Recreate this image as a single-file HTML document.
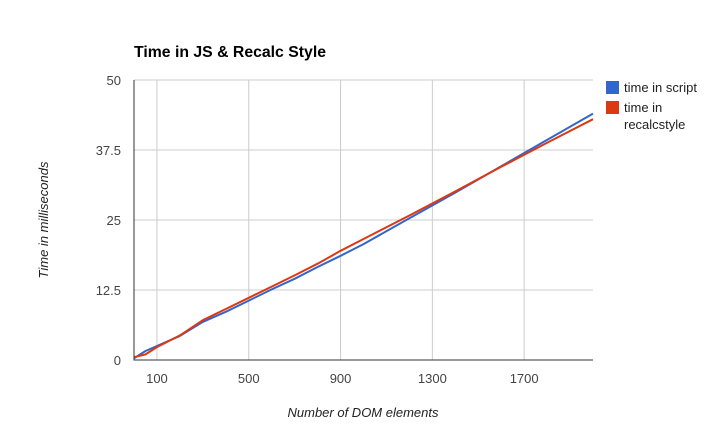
<!DOCTYPE html>
<html><head><meta charset="utf-8"><style>
html,body{margin:0;padding:0;background:#fff;width:725px;height:439px;overflow:hidden}
svg{font-family:"Liberation Sans",Arial,sans-serif;display:block}
</style></head><body>
<svg width="725" height="439">
<g id="grid"></g>
<g id="lines"></g>
<g id="axes"></g>
<text x="134" y="57" font-size="15.8" font-weight="bold" fill="#000">Time in JS &amp; Recalc Style</text>
<text x="363" y="417" font-size="13" font-style="italic" text-anchor="middle" fill="#222">Number of DOM elements</text>
<text x="48" y="220" font-size="13" font-style="italic" text-anchor="middle" fill="#222" transform="rotate(-90 48 220)">Time in milliseconds</text>
<g>
<rect x="606" y="81" width="13" height="13" fill="#3366cc"/>
<text x="624" y="92" font-size="13" fill="#222">time in script</text>
<rect x="606" y="101" width="13" height="13" fill="#dc3912"/>
<text x="624" y="112" font-size="13" fill="#222">time in</text>
<text x="624" y="129" font-size="13" fill="#222">recalcstyle</text>
</g>
</svg>
<script>
const xValues=[0,50,100,200,300,400,500,600,700,800,900,1000,1200,1400,1600,1800,2000];
const scriptTimes=[0.3,1.6,2.5,4.3,6.8,8.6,10.6,12.6,14.5,16.6,18.6,20.7,25.3,29.9,34.6,39.3,44.0];
const recalcTimes=[0.5,1.0,2.3,4.4,7.1,9.1,11.1,13.1,15.1,17.2,19.5,21.6,25.8,30.1,34.5,38.8,43.0];
const xTicks=[100,500,900,1300,1700];
const yTicks=[0,12.5,25,37.5,50];
const yTickLabels=["0","12.5","25","37.5","50"];
const X0=134,X1=593,Y0=360,Y1=80,XMAX=2000,YMAX=50;
const sx=v=>X0+(v/XMAX)*(X1-X0), sy=v=>Y0-(v/YMAX)*(Y0-Y1);
const NS="http://www.w3.org/2000/svg";
function mk(t,a,p){const e=document.createElementNS(NS,t);for(const k in a)e.setAttribute(k,a[k]);p.appendChild(e);return e;}
const grid=document.getElementById('grid'),axes=document.getElementById('axes'),lines=document.getElementById('lines');
yTicks.forEach((v,i)=>{
 if(v>0){const l=mk('line',{x1:X0,x2:X1,y1:sy(v),y2:sy(v),stroke:'#ccc','stroke-width':1},grid);
 
 }
 const t=mk('text',{x:X0-13,y:sy(v)+5,'font-size':13,'text-anchor':'end',fill:'#444'},axes);
 t.textContent=yTickLabels[i];
 
 
});
xTicks.forEach(v=>{
 const l=mk('line',{x1:sx(v),x2:sx(v),y1:Y1,y2:Y0,stroke:'#ccc','stroke-width':1},grid);
 
 
 const t=mk('text',{x:sx(v),y:Y0+23,'font-size':13,'text-anchor':'middle',fill:'#444'},axes);
 t.textContent=v;
 
 
});
const ax=mk('line',{x1:X0,x2:X0,y1:Y1,y2:Y0+0.5,stroke:'#333','stroke-width':1},axes);


const bx=mk('line',{x1:X0,x2:X1,y1:Y0,y2:Y0,stroke:'#333','stroke-width':1},axes);


function series(vals,color,name){
 const d=vals.map((v,i)=>(i?'L':'M')+sx(xValues[i]).toFixed(1)+' '+sy(v).toFixed(1)).join(' ');
 const p=mk('path',{d:d,fill:'none',stroke:color,'stroke-width':2,'stroke-linejoin':'round'},lines);
 
 
}
series(scriptTimes,'#3366cc','line-time-in-script');
series(recalcTimes,'#dc3912','line-time-in-recalcstyle');
</script>
</body></html>
